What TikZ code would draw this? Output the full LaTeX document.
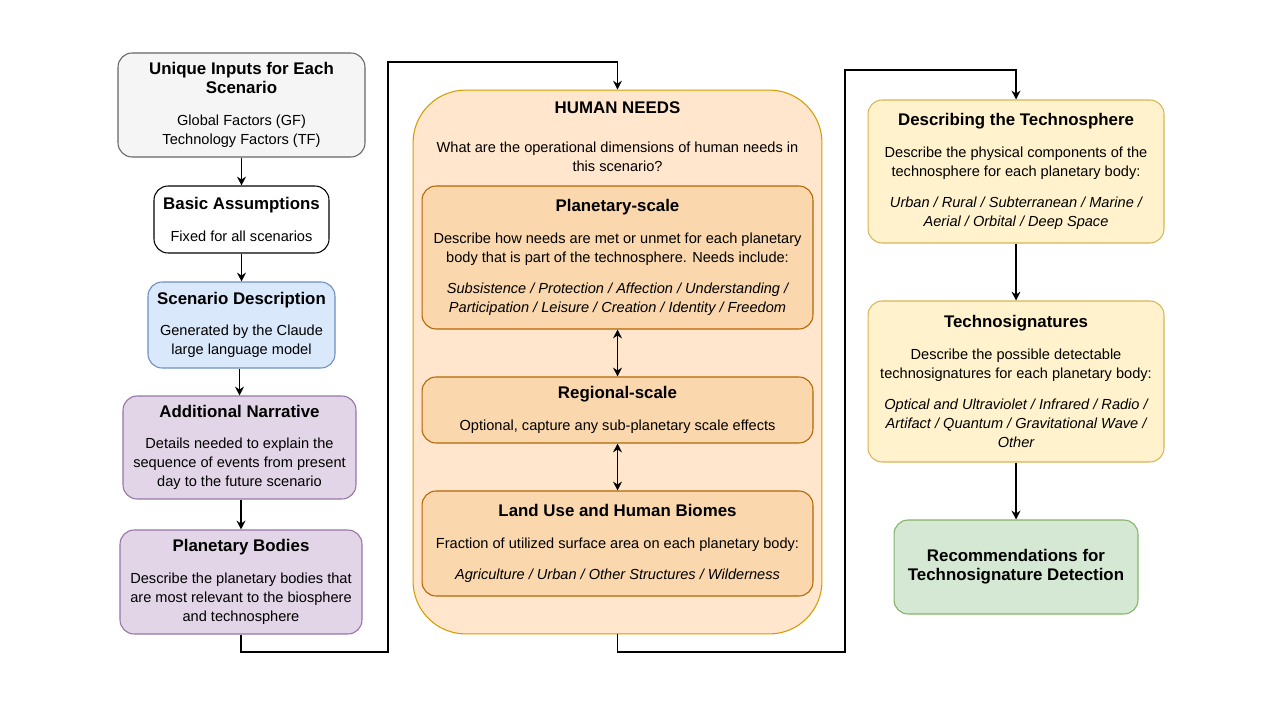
\documentclass[tikz,border=0pt]{standalone}
\usepackage{fontspec}
\setmainfont{Liberation Sans}
\usetikzlibrary{arrows.meta}
\definecolor{grayfill}{HTML}{F5F5F5}\definecolor{graydraw}{HTML}{666666}
\definecolor{bluefill}{HTML}{DAE8FC}\definecolor{bluedraw}{HTML}{6C8EBF}
\definecolor{purpfill}{HTML}{E1D5E7}\definecolor{purpdraw}{HTML}{9673A6}
\definecolor{orfill}{HTML}{FFE6CC}\definecolor{ordraw}{HTML}{D79B00}
\definecolor{or2fill}{HTML}{FAD7AC}\definecolor{or2draw}{HTML}{B46504}
\definecolor{yelfill}{HTML}{FFF2CC}\definecolor{yeldraw}{HTML}{D6B656}
\definecolor{grnfill}{HTML}{D5E8D4}\definecolor{grndraw}{HTML}{82B366}
\tikzset{
  box/.style={rounded corners=8pt,draw,line width=0.6pt,align=center,inner sep=2pt,
    font=\fontsize{8.3pt}{10.8pt}\selectfont},
  link/.style={line width=0.9pt,-{Stealth[length=5pt,width=5pt]}},
  both/.style={line width=0.9pt,{Stealth[length=5pt,width=5pt]}-{Stealth[length=5pt,width=5pt]}},
}
\newcommand{\ttl}[1]{{\fontsize{9.6pt}{11.5pt}\selectfont\bfseries #1}}
\begin{document}
\begin{tikzpicture}[x=0.02cm,y=-0.02cm]
  \useasboundingbox (0,0) rectangle (1277,716);
  % left column
  \node [box,fill=grayfill,draw=graydraw,minimum width=4.94cm,minimum height=2.08cm] (inputs) at (241.5,105)
    {\ttl{Unique Inputs for Each}\\\ttl{Scenario}\\[7pt]Global Factors (GF)\\Technology Factors (TF)};
  \node [box,fill=white,draw=black,minimum width=3.5cm,minimum height=1.34cm] (assume) at (241.5,219.5)
    {\ttl{Basic Assumptions}\\[7pt]Fixed for all scenarios};
  \node [box,fill=bluefill,draw=bluedraw,minimum width=3.74cm,minimum height=1.72cm] (scen) at (241.5,325)
    {\ttl{Scenario Description}\\[7pt]Generated by the Claude\\large language model};
  \node [box,fill=purpfill,draw=purpdraw,minimum width=4.66cm,minimum height=2.06cm] (narr) at (239.5,447.5)
    {\ttl{Additional Narrative}\\[7pt]Details needed to explain the\\sequence of events from present\\day to the future scenario};
  \node [box,fill=purpfill,draw=purpdraw,minimum width=4.84cm,minimum height=2.08cm] (bodies) at (241,582)
    {\ttl{Planetary Bodies}\\[7pt]Describe the planetary bodies that\\are most relevant to the biosphere\\and technosphere};
  % middle column
  \node [box,rounded corners=30pt,fill=orfill,draw=ordraw,minimum width=8.18cm,minimum height=10.88cm] (needs) at (617.5,362) {};
  \node [font=\fontsize{8.3pt}{10.8pt}\selectfont,align=center] (needsttl) at (617.5,108) {\ttl{HUMAN NEEDS}};
  \node [font=\fontsize{8.3pt}{10.8pt}\selectfont,align=center] (needsq) at (617.5,157)
    {What are the operational dimensions of human needs in\\this scenario?};
  \node [box,fill=or2fill,draw=or2draw,minimum width=7.82cm,minimum height=2.86cm] (planet) at (617.5,257.5)
    {\ttl{Planetary-scale}\\[7pt]Describe how needs are met or unmet for each planetary\\body that is part of the technosphere. Needs include:\\[7pt]
     \itshape Subsistence / Protection / Affection / Understanding /\\\itshape Participation / Leisure / Creation / Identity / Freedom};
  \node [box,fill=or2fill,draw=or2draw,minimum width=7.82cm,minimum height=1.32cm] (region) at (617.5,410)
    {\ttl{Regional-scale}\\[7pt]Optional, capture any sub-planetary scale effects};
  \node [box,fill=or2fill,draw=or2draw,minimum width=7.82cm,minimum height=2.1cm] (land) at (617.5,543.5)
    {\ttl{Land Use and Human Biomes}\\[7pt]Fraction of utilized surface area on each planetary body:\\[7pt]
     \itshape Agriculture / Urban / Other Structures / Wilderness};
  % right column
  \node [box,fill=yelfill,draw=yeldraw,minimum width=5.92cm,minimum height=2.86cm] (sphere) at (1016,171.5)
    {\ttl{Describing the Technosphere}\\[7pt]Describe the physical components of the\\technosphere for each planetary body:\\[7pt]
     \itshape Urban / Rural / Subterranean / Marine /\\\itshape Aerial / Orbital / Deep Space};
  \node [box,fill=yelfill,draw=yeldraw,minimum width=5.92cm,minimum height=3.22cm] (signs) at (1016,381.5)
    {\ttl{Technosignatures}\\[7pt]Describe the possible detectable\\technosignatures for each planetary body:\\[7pt]
     \itshape Optical and Ultraviolet / Infrared / Radio /\\\itshape Artifact / Quantum / Gravitational Wave /\\\itshape Other};
  \node [box,fill=grnfill,draw=grndraw,minimum width=4.88cm,minimum height=1.88cm] (recom) at (1016,567)
    {\ttl{Recommendations for}\\\ttl{Technosignature Detection}};
  % connectors
  \draw [link] (inputs) -- (assume);
  \draw [link] (assume) -- (scen);
  \draw [link] (scen.south -| narr.north) -- (narr);
  \draw [link] (narr.south -| bodies.north) -- (bodies);
  \draw [link] (bodies.south) |- (388,652) |- (617.5,62) -- (needs.north);
  \draw [link] (needs.south) |- (845,652) |- (1016,70) -- (sphere.north);
  \draw [both] (planet) -- (region);
  \draw [both] (region) -- (land);
  \draw [link] (sphere) -- (signs);
  \draw [link] (signs) -- (recom);
\end{tikzpicture}
\end{document}
